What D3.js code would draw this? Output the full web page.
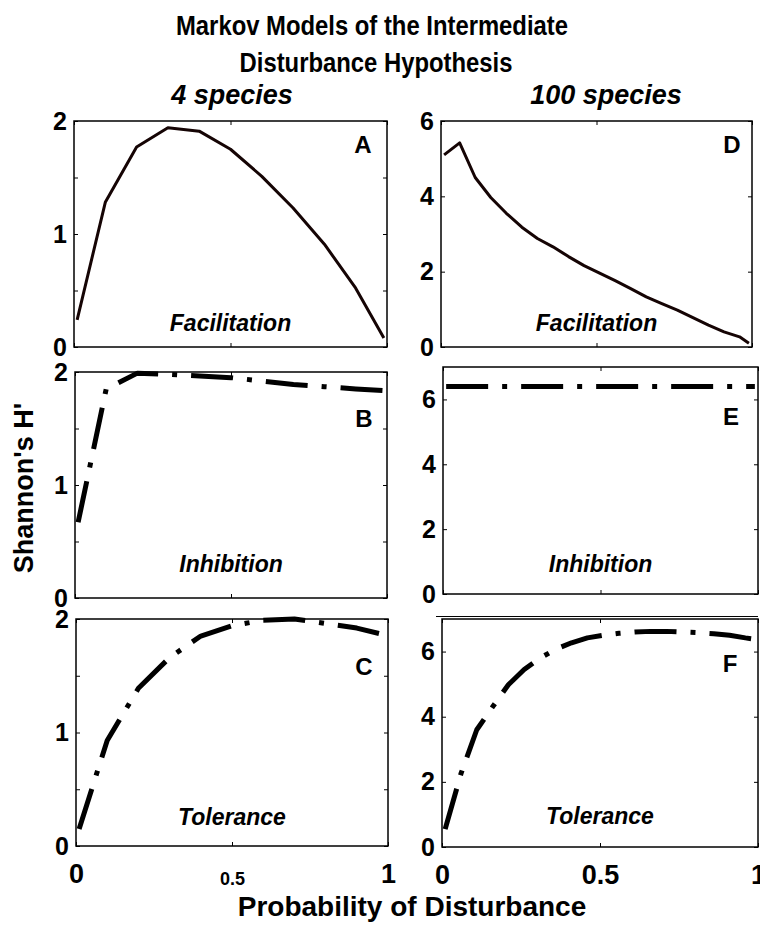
<!DOCTYPE html>
<html>
<head>
<meta charset="utf-8">
<script src="https://cdn.jsdelivr.net/npm/d3@7"></script>
<style>
  body { margin: 0; background: #fff; }
  svg { display: block; font-family: "Liberation Sans", Arial, sans-serif; font-weight: bold; }
</style>
</head>
<body>
<svg width="760" height="933"></svg>
<script>
// probability of disturbance at which each model was run
var p4 = [0.01, 0.1, 0.2, 0.3, 0.4, 0.5, 0.6, 0.7, 0.8, 0.9, 0.99];
var p100 = [0.01, 0.06, 0.11, 0.16, 0.21, 0.26, 0.31, 0.36, 0.41, 0.46, 0.51,
            0.56, 0.61, 0.66, 0.71, 0.76, 0.81, 0.86, 0.91, 0.96, 0.99];

// Shannon's H' - 4 species
var facil4 = [0.24, 1.28, 1.77, 1.94, 1.91, 1.75, 1.51, 1.23, 0.91, 0.52, 0.08];
var inhib4 = [0.67, 1.85, 1.99, 1.98, 1.965, 1.95, 1.92, 1.89, 1.87, 1.85, 1.835];
var toler4 = [0.15, 0.93, 1.39, 1.66, 1.85, 1.94, 1.99, 2.0, 1.96, 1.92, 1.86];

// Shannon's H' - 100 species
var facil100 = [5.1, 5.42, 4.5, 3.97, 3.55, 3.18, 2.88, 2.66, 2.4, 2.16, 1.96,
                1.76, 1.55, 1.33, 1.15, 0.98, 0.78, 0.58, 0.4, 0.27, 0.1];
var inhib100 = [6.4, 6.4, 6.4, 6.4, 6.4, 6.4, 6.4, 6.4, 6.4, 6.4, 6.4,
                6.4, 6.4, 6.4, 6.4, 6.4, 6.4, 6.4, 6.4, 6.4, 6.4];
var toler100 = [0.55, 2.25, 3.6, 4.3, 4.98, 5.45, 5.8, 6.07, 6.27, 6.42, 6.5,
                6.56, 6.6, 6.62, 6.62, 6.6, 6.58, 6.55, 6.5, 6.42, 6.38];

var xTicks = [0, 0.5, 1];
var yTicks4 = [0, 0.5, 1, 1.5, 2];
var yLabels4 = [0, 1, 2];
var yTicks100 = [0, 2, 4, 6];

var panels = [
  {letter: 'A', model: 'Facilitation', px: p4, h: facil4, ymax: 2, yt: yTicks4, yl: yLabels4, solid: true,  box: [74, 121, 387, 347], lp: [363, 153], mb: 331, bottom: false},
  {letter: 'B', model: 'Inhibition',   px: p4, h: inhib4, ymax: 2, yt: yTicks4, yl: yLabels4, solid: false, box: [75, 372, 387, 598], lp: [364, 427], mb: 572, bottom: false},
  {letter: 'C', model: 'Tolerance',    px: p4, h: toler4, ymax: 2, yt: yTicks4, yl: yLabels4, solid: false, box: [76, 619, 388, 846], lp: [364, 675], mb: 825, bottom: true, small: true},
  {letter: 'D', model: 'Facilitation', px: p100, h: facil100, ymax: 6, yt: yTicks100, yl: yTicks100, solid: true,  box: [441, 121, 752, 347], lp: [732, 153], mb: 331, bottom: false},
  {letter: 'E', model: 'Inhibition',   px: p100, h: inhib100, ymax: 7, yt: yTicks100, yl: yTicks100, solid: false, box: [443, 367, 758, 594], lp: [731, 425], mb: 572, bottom: false},
  {letter: 'F', model: 'Tolerance',    px: p100, h: toler100, ymax: 7, yt: yTicks100, yl: yTicks100, solid: false, box: [442, 619, 758, 847], lp: [730, 672], mb: 824, bottom: true}
];

var svg = d3.select('svg');

// stray axis edge above panel F, as in the original figure
svg.append('line')
  .attr('x1', 436).attr('x2', 758).attr('y1', 616.5).attr('y2', 616.5)
  .attr('stroke', '#000').attr('stroke-width', 1);

panels.forEach(function(p) {
  var w = p.box[2] - p.box[0];
  var ht = p.box[3] - p.box[1];
  var x = d3.scaleLinear().domain([0, 1]).range([0, w]);
  var y = d3.scaleLinear().domain([0, p.ymax]).range([ht, 0]);

  var g = svg.append('g')
    .attr('transform', 'translate(' + p.box[0] + ',' + p.box[1] + ')');

  var line = d3.line()
    .x(function(d) { return x(d[0]); })
    .y(function(d) { return y(d[1]); });

  g.append('path')
    .datum(d3.zip(p.px, p.h))
    .attr('d', line)
    .attr('fill', 'none')
    .attr('stroke', p.solid ? '#150404' : '#000')
    .attr('stroke-width', p.solid ? 3 : 5)
    .attr('stroke-linejoin', 'round')
    .attr('stroke-dasharray', p.solid ? null : '42,14,5,14');

  function clean(sel) {
    sel.select('.domain').remove();
    sel.selectAll('.tick line').attr('stroke', '#000').attr('stroke-width', 1);
    sel.attr('font-family', null).attr('font-size', null);
  }

  g.append('g')
    .call(d3.axisLeft(y).tickValues(p.yt).tickSize(-4).tickPadding(7)
      .tickFormat(function(d) { return p.yl.indexOf(d) >= 0 ? d : ''; }))
    .call(clean)
    .selectAll('text').attr('font-size', 25).attr('fill', '#000');

  g.append('g')
    .attr('transform', 'translate(' + w + ',0)')
    .call(d3.axisRight(y).tickValues(p.yt).tickSize(-4).tickFormat(''))
    .call(clean);

  g.append('g')
    .call(d3.axisTop(x).tickValues(xTicks).tickSize(-4).tickFormat(''))
    .call(clean);

  var bx = g.append('g')
    .attr('transform', 'translate(0,' + ht + ')')
    .call(d3.axisBottom(x).tickValues(xTicks).tickSize(-4).tickPadding(18)
      .tickFormat(function(d) { return p.bottom ? d : ''; }))
    .call(clean);
  bx.selectAll('text')
    .attr('fill', '#000')
    .attr('font-size', function(d) { return (p.small && d === 0.5) ? 18 : 27; })
    .attr('dy', function(d) { return (p.small && d === 0.5) ? '1.15em' : '0.71em'; });

  g.append('rect')
    .attr('width', w).attr('height', ht)
    .attr('fill', 'none').attr('stroke', '#000').attr('stroke-width', 1.5);

  svg.append('text')
    .attr('x', p.box[0] + w / 2).attr('y', p.mb)
    .attr('text-anchor', 'middle')
    .attr('font-size', 23).attr('font-style', 'italic')
    .text(p.model);

  svg.append('text')
    .attr('x', p.lp[0]).attr('y', p.lp[1])
    .attr('text-anchor', 'middle')
    .attr('font-size', 24)
    .text(p.letter);
});

// title is set in a tall, tight face in the original: squeeze both lines alike
var t1 = svg.append('text').attr('x', 372).attr('y', 35).attr('text-anchor', 'middle')
  .attr('font-size', 28).text('Markov Models of the Intermediate');
var squeeze = 392 / t1.node().getComputedTextLength();
t1.attr('textLength', 392).attr('lengthAdjust', 'spacingAndGlyphs');
var t2 = svg.append('text').attr('x', 376).attr('y', 72).attr('text-anchor', 'middle')
  .attr('font-size', 28).text('Disturbance Hypothesis');
t2.attr('textLength', t2.node().getComputedTextLength() * squeeze)
  .attr('lengthAdjust', 'spacingAndGlyphs');

svg.append('text').attr('x', 232).attr('y', 104).attr('text-anchor', 'middle')
  .attr('font-size', 27).attr('font-style', 'italic').text('4 species');
svg.append('text').attr('x', 606).attr('y', 104).attr('text-anchor', 'middle')
  .attr('font-size', 27).attr('font-style', 'italic').text('100 species');

svg.append('text').attr('x', 412).attr('y', 916).attr('text-anchor', 'middle')
  .attr('font-size', 28).text('Probability of Disturbance');

svg.append('text')
  .attr('transform', 'translate(33,488) rotate(-90)')
  .attr('text-anchor', 'middle')
  .attr('font-size', 27).text("Shannon's H'");
</script>
</body>
</html>
